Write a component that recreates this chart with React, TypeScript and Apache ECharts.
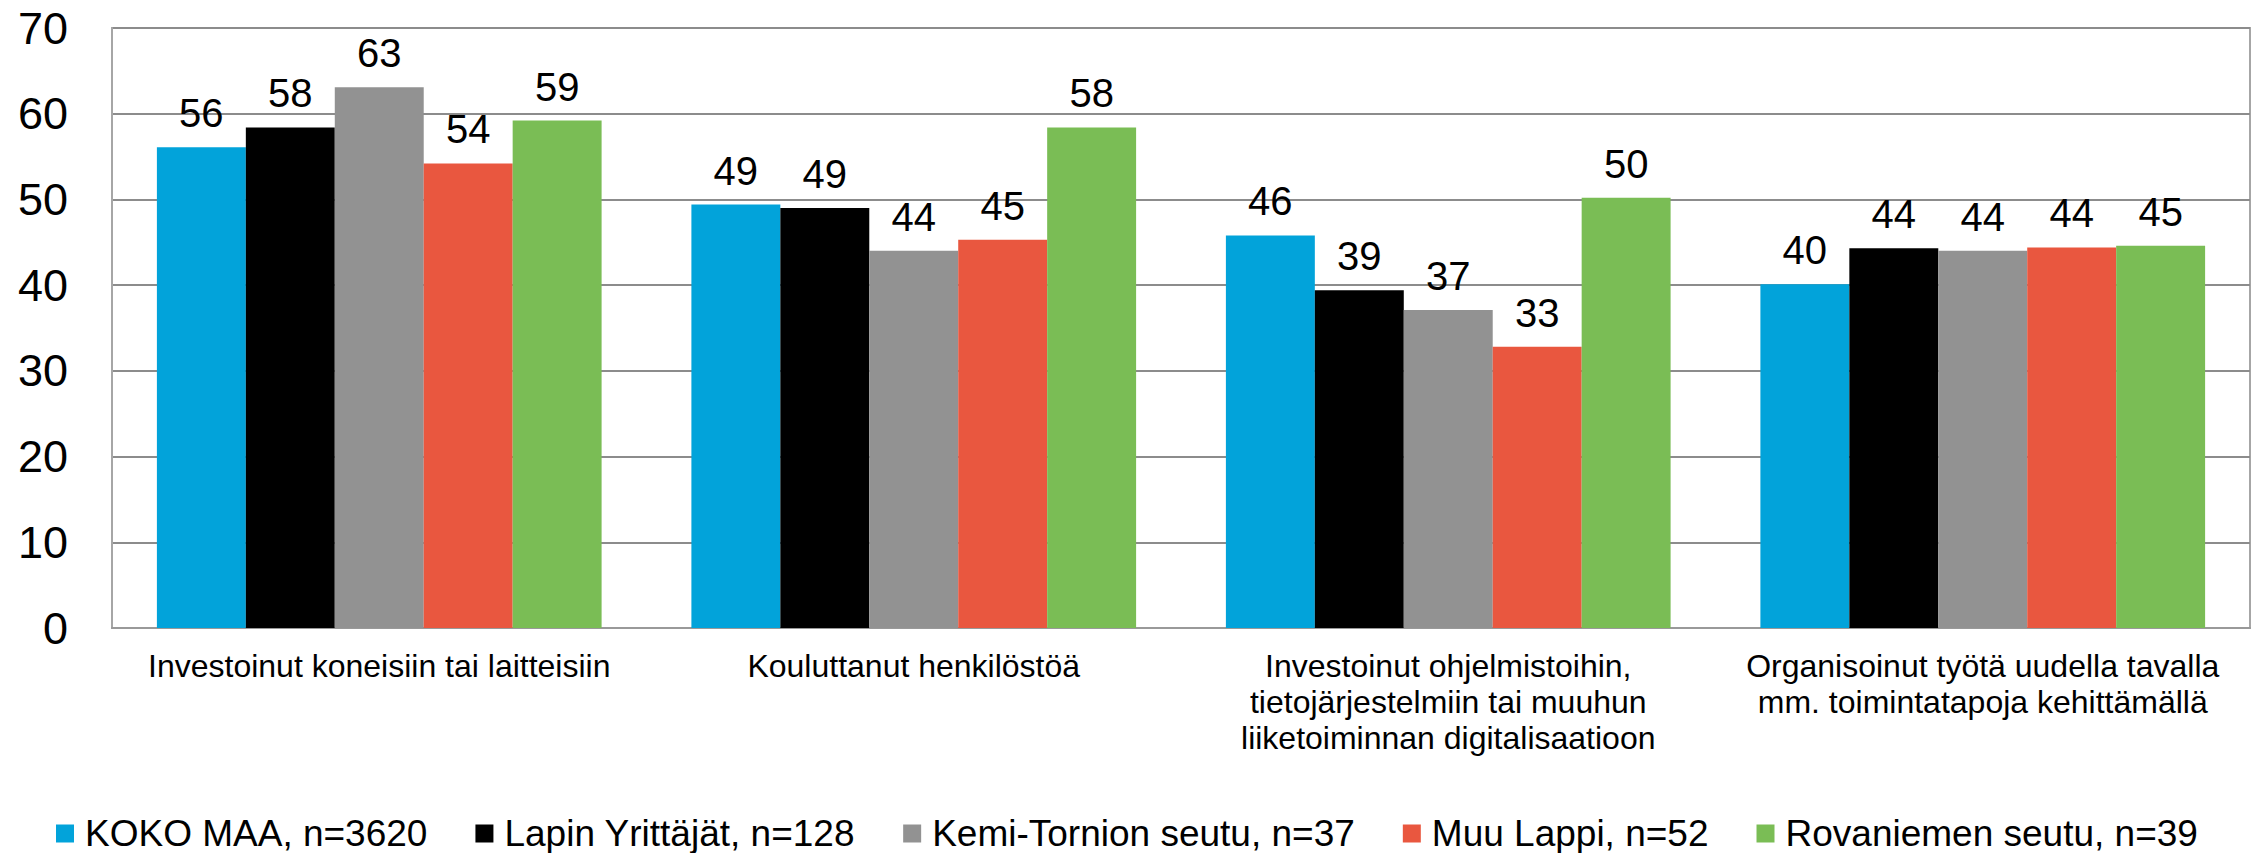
import React, { useEffect, useRef } from "react";
import * as echarts from "echarts";

const categories = [
  "Investoinut koneisiin tai laitteisiin",
  "Kouluttanut henkilöstöä",
  "Investoinut ohjelmistoihin,\ntietojärjestelmiin tai muuhun\nliiketoiminnan digitalisaatioon",
  "Organisoinut työtä uudella tavalla\nmm. toimintatapoja kehittämällä",
];

const seriesNames = [
  "KOKO MAA, n=3620",
  "Lapin Yrittäjät, n=128",
  "Kemi-Tornion seutu, n=37",
  "Muu Lappi, n=52",
  "Rovaniemen seutu, n=39",
];

const kokoMaa = [56.1, 49.4, 45.8, 40.1];
const lapinYrittajat = [58.4, 49.0, 39.4, 44.3];
const kemiTornio = [63.1, 44.0, 37.1, 44.0];
const muuLappi = [54.2, 45.3, 32.8, 44.4];
const rovaniemi = [59.2, 58.4, 50.2, 44.6];

const seriesValues = [kokoMaa, lapinYrittajat, kemiTornio, muuLappi, rovaniemi];
const colors = ["#02A3DA", "#000000", "#929292", "#E9573F", "#7ABD55"];

const yTicks = { min: 0, max: 70, interval: 10 };

const FONT = "'Liberation Sans', Arial, Helvetica, sans-serif";

export default function App() {
  const ref = useRef<HTMLDivElement>(null);

  useEffect(() => {
    if (!ref.current) return;
    const chart = echarts.init(ref.current, null, { renderer: "svg" });
    chart.setOption({
      animation: false,
      backgroundColor: "#ffffff",
      textStyle: { fontFamily: FONT, color: "#000" },
      grid: {
        left: 112,
        right: 10,
        top: 28,
        bottom: 225,
        show: true,
        borderColor: "#a6a6a6",
        borderWidth: 2,
        containLabel: false,
      },
      legend: {
        left: 56,
        top: 815,
        padding: 0,
        icon: "rect",
        itemWidth: 18,
        itemHeight: 18,
        itemGap: 48,
        textStyle: {
          fontFamily: FONT,
          fontSize: 37,
          color: "#000",
          padding: [0, 0, 0, 6],
        },
        data: seriesNames,
      },
      xAxis: {
        type: "category",
        data: categories,
        axisLine: { show: true, lineStyle: { color: "#999999", width: 2 } },
        axisTick: { show: false },
        axisLabel: {
          interval: 0,
          margin: 20,
          fontFamily: FONT,
          fontSize: 32,
          lineHeight: 36,
          color: "#000",
          align: "center",
        },
        splitLine: { show: false },
      },
      yAxis: {
        type: "value",
        min: yTicks.min,
        max: yTicks.max,
        interval: yTicks.interval,
        axisLine: { show: true, lineStyle: { color: "#a6a6a6", width: 2 } },
        axisTick: { show: false },
        axisLabel: {
          margin: 44,
          fontFamily: FONT,
          fontSize: 45,
          color: "#000",
        },
        splitLine: { show: true, lineStyle: { color: "#8c8c8c", width: 2 } },
      },
      series: seriesNames.map((name, i) => ({
        name,
        type: "bar",
        data: seriesValues[i],
        barGap: "0%",
        barCategoryGap: "16.8%",
        itemStyle: { color: colors[i] },
        label: {
          show: true,
          position: "top",
          distance: 14,
          fontFamily: FONT,
          fontSize: 40,
          color: "#000",
          formatter: (p: any) => String(Math.round(p.value)),
        },
      })),
    });
    return () => chart.dispose();
  }, []);

  return (
    <div
      ref={ref}
      style={{ position: "fixed", left: 0, top: 0, width: 2260, height: 853 }}
    />
  );
}
